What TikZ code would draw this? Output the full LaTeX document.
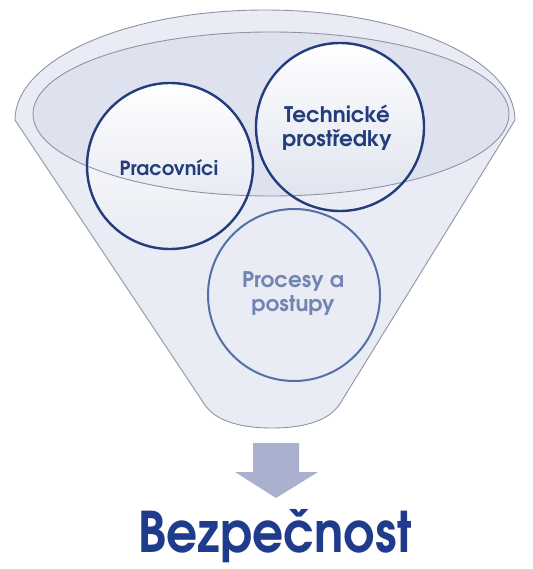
\documentclass[tikz,border=0pt]{standalone}
\usepackage{fontspec}
\setmainfont{texgyreadventor}[Extension=.otf, UprightFont=*-regular, BoldFont=*-bold]
\usetikzlibrary{fadings}
\definecolor{funnelfill}{HTML}{E9ECF4}
\definecolor{rimfill}{HTML}{DDE2EE}
\definecolor{rimline}{HTML}{8E94A6}
\definecolor{navy}{HTML}{223C7C}
\definecolor{procline}{HTML}{5570A8}
\definecolor{proctext}{HTML}{7384B0}
\definecolor{arrowcol}{HTML}{A9B1CF}
\definecolor{titleblue}{HTML}{1F3B8C}
\tikzset{
  bubble/.style={circle, draw=navy, line width=2.4pt, inner sep=0pt},
  lbl/.style={font=\bfseries\fontsize{#1}{24}\selectfont, text=navy, align=center},
  lbl/.default=21.5,
}

\begin{document}
\begin{tikzpicture}[x=1pt, y=-1pt] % funnel: three inputs give security

\useasboundingbox (0,0) rectangle (532,569);

\def\rim{250} % outer rim x radius
\def\rimy{110} % outer rim y radius

% body of the funnel
\filldraw[fill=funnelfill, draw=rimline, line width=0.9pt]
  (265-\rim,120) -- (203,402) .. controls (214,421) and (240,428) .. (272,428)
  .. controls (304,428) and (330,421) .. (341,402) -- (265+\rim,120)
  arc[start angle=0, end angle=-180, x radius=\rim, y radius=\rimy] -- cycle;

% inner rim
\fill[rimfill] (271,114) ellipse[x radius=238, y radius=82];

% light fills of the two upper circles
\fill[white, path fading=south] (170,166) circle[radius=83];
\fill[white, path fading=south] (340,127) circle[radius=84];

\draw[rimline, line width=0.9pt] (271,114) ellipse[x radius=238, y radius=82];

% the three circles
\node[bubble, minimum size=166pt] (prac) at (170,166) {};
\node[bubble, minimum size=168pt] (tech) at (340,127) {};
\node[bubble, draw=procline, line width=2pt, minimum size=172pt] (proc) at (294,295) {};

\node[lbl=19.5] (pracText) at (169,168) {Pracovníci};
\node[lbl] (techText) at (337,128) {Technické\\prostředky};
\node[lbl, text=proctext] (procText) at (293,294) {Procesy a\\postupy};

% arrow down to the result
\coordinate (down) at (276,443);
\fill[arrowcol] (down) ++(-23,0) -- ++(46,0) -- ++(0,29) -- ++(19,0)
  -- (276,498) -- (235,472) -- ++(18,0) -- cycle;

\node[font=\bfseries\fontsize{56}{60}\selectfont, text=titleblue, anchor=base]
  (result) at (275,552) {\scalebox{0.87}[1]{Bezpečnost}};
\end{tikzpicture}
\end{document}
